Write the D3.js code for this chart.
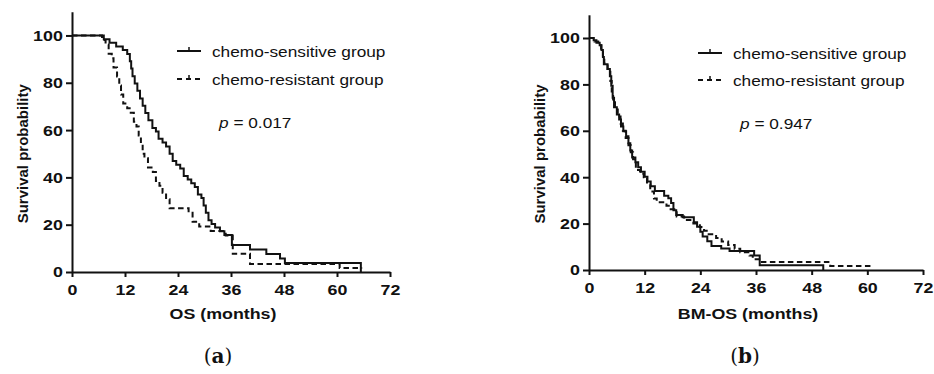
<!DOCTYPE html>
<html>
<head>
<meta charset="utf-8">
<script src="https://cdn.jsdelivr.net/npm/d3@7"></script>
<style>
  body { margin: 0; background: #fff; }
  svg { display: block; }
</style>
</head>
<body>
<div id="chart"></div>
<script>
const width = 934;
const height = 374;
const stretch = 1.15;   // the source figure is a bit wider than tall
const sansFont = "'Liberation Sans', Arial, sans-serif";

const xTicks = [0, 12, 24, 36, 48, 60, 72];
const yTicks = [0, 20, 40, 60, 80, 100];
const groupNames = ["chemo-sensitive group", "chemo-resistant group"];

// [months, survival %]
const osSensitive = [[0,100],[7.2,98.4],[8.5,96.9],[10,95.3],[11.5,93.8],[12.5,92.2],[13.1,89.1],[13.4,86],[13.7,82.8],[14.2,79.7],
  [14.8,76.6],[15.4,73.4],[16,70.3],[16.6,67.2],[17.3,64.1],[18.2,60.9],[19,59.4],[19.6,56.3],[20.5,54.7],[21.3,53.1],
  [22.1,50],[22.8,46.9],[23.6,45.3],[24.5,43.8],[25.3,40.6],[26.2,39.1],[27,37.5],[27.8,35.9],[28.5,32.8],[29.3,31.3],
  [29.8,28.1],[30.3,25],[30.9,21.9],[31.6,20.3],[32.4,18.8],[33.5,17.2],[34.5,15.6],[36.2,11.4],[40.3,9.5],[44,7.6],
  [47.1,5.7],[48.2,3.8],[65.4,0]];
const osResistant = [[0,100],[6.8,98.1],[7.6,96.2],[8.3,92.3],[9,90.4],[9.4,86.5],[10.2,82.7],[10.7,78.8],[11.1,75],[11.6,71.2],
  [12.5,69.2],[13.3,67.3],[14,63.5],[14.6,61.5],[15.1,57.7],[15.6,53.8],[16,50],[16.4,48.1],[17.2,44.2],[18.3,42.3],
  [19,38.5],[19.8,36.5],[20.5,33.5],[21.3,30.8],[22.1,26.9],[26.4,25],[27.3,21.2],[28.8,19.2],[31.4,17.3],[34.8,15.4],
  [36.4,7.7],[40.3,3.4],[60.6,1.7],[65.7,1.7]];
const bmSensitive = [[0,100],[1,99],[1.6,97.9],[2.3,96.9],[2.7,94.8],[3,91.8],[3.2,88.7],[4,86.6],[4.5,83.5],[4.8,79.4],
  [5.1,74.2],[5.4,70.1],[6,67],[6.5,64.9],[6.9,61.9],[7.4,59.8],[8,57.7],[8.5,54.6],[8.9,51.5],[9.3,48.5],
  [10,46.4],[10.6,44.3],[11.2,42.3],[12,40.2],[12.6,38.1],[13.3,36.1],[14.2,34],[16.2,32],[17.1,30.9],[17.7,28.9],
  [18.2,25.8],[18.8,23.7],[20.2,22.7],[22.6,20.6],[23.3,18.6],[24,16.5],[24.5,14.4],[25.5,12.4],[26.4,10.3],[28.5,9.3],
  [30.3,8.2],[35.6,6.2],[36.8,2.1],[50.5,0]];
const bmResistant = [[0,100],[1.2,98.5],[2,96.9],[2.6,95.4],[3,92.3],[3.3,89.2],[4,86.2],[4.6,81.5],[4.9,76.9],[5.2,72.3],
  [5.6,69.2],[6.2,66.2],[6.8,63.1],[7.3,60],[7.9,56.9],[8.5,53.8],[9,50.8],[9.5,47.7],[10.1,43.1],[11,41.5],
  [11.8,40],[12.5,36.9],[13.2,33.8],[14,30.8],[14.6,29.2],[16.7,27.7],[17.6,26.2],[18.9,23.1],[20.5,21.5],[22.5,20],
  [23.9,18.5],[24.8,16.9],[25.8,15.4],[27.4,13.8],[28.6,12.3],[30,10.8],[31.4,9.2],[32.6,7.7],[34.6,6.2],[35.3,4.6],
  [36.9,3.4],[52,1.7],[60.8,1.7]];

const panels = [
  { tag: "a", xTitle: "OS (months)", pValue: "0.017", series: [osSensitive, osResistant],
    left: 72, right: 390, bottom: 272, top: 11.8, yTitleX: 23, legX: 177, legY: [51, 79], pY: 128, capX: 218 },
  { tag: "b", xTitle: "BM-OS (months)", pValue: "0.947", series: [bmSensitive, bmResistant],
    left: 589, right: 923, bottom: 270, top: 14.8, yTitleX: 540, legX: 698, legY: [53, 80], pY: 128.5, capX: 745 }
];

const svg = d3.select("#chart").append("svg")
    .attr("width", width)
    .attr("height", height);

function stretchedText(g, x, y, str, size, weight, anchor) {
  return g.append("text")
      .attr("transform", `translate(${x},${y}) scale(${stretch},1)`)
      .attr("text-anchor", anchor || "start")
      .style("font-family", sansFont)
      .style("font-size", size + "px")
      .style("font-weight", weight || "normal")
      .style("fill", "#111")
      .text(str);
}

panels.forEach(p => {
  const g = svg.append("g");
  const x = d3.scaleLinear().domain([0, 72]).range([p.left, p.right]);
  const y = d3.scaleLinear().domain([0, 110]).range([p.bottom, p.top]);

  const xAxis = g.append("g")
      .attr("transform", `translate(0,${p.bottom})`)
      .call(d3.axisBottom(x).tickValues(xTicks).tickSize(5).tickSizeOuter(0).tickPadding(7));
  const yAxis = g.append("g")
      .attr("transform", `translate(${p.left},0)`)
      .call(d3.axisLeft(y).tickValues(yTicks).tickSize(6).tickSizeOuter(0).tickPadding(2));

  [xAxis, yAxis].forEach(ax => {
    ax.select(".domain").attr("stroke", "#111").attr("stroke-width", 2);
    ax.selectAll(".tick line").attr("stroke", "#111").attr("stroke-width", 2);
    ax.selectAll(".tick text")
        .attr("transform", `scale(${stretch},1)`)
        .style("font-family", sansFont)
        .style("font-size", "15.5px")
        .style("font-weight", "bold")
        .style("fill", "#111");
  });

  // survival curves
  const line = d3.line()
      .x(d => x(d[0]))
      .y(d => y(d[1]))
      .curve(d3.curveStepAfter);

  p.series.forEach((s, i) => {
    g.append("path")
        .datum(s)
        .attr("d", line)
        .attr("fill", "none")
        .attr("stroke", "#111")
        .attr("stroke-width", 2)
        .attr("stroke-dasharray", i === 1 ? "5.5,3.5" : null);
  });

  // axis titles
  stretchedText(g, (p.left + p.right) / 2 - 8, 319, p.xTitle, 15.5, "bold", "middle");
  g.append("text")
      .attr("transform", `translate(${p.yTitleX + 5},${(p.bottom + y(100)) / 2}) rotate(-90)`)
      .attr("text-anchor", "middle")
      .style("font-family", sansFont)
      .style("font-size", "15px")
      .style("font-weight", "bold")
      .style("fill", "#111")
      .text("Survival probability");

  // legend
  groupNames.forEach((name, i) => {
    const ly = p.legY[i];
    g.append("line")
        .attr("x1", p.legX).attr("x2", p.legX + 24)
        .attr("y1", ly).attr("y2", ly)
        .attr("stroke", "#111").attr("stroke-width", 2)
        .attr("stroke-dasharray", i === 1 ? "5,4" : null);
    g.append("line")
        .attr("x1", p.legX + 12).attr("x2", p.legX + 12)
        .attr("y1", ly).attr("y2", ly - 4)
        .attr("stroke", "#111").attr("stroke-width", 1.5);
    stretchedText(g, p.legX + 35, ly + 5.5, name, 15);
  });

  const pt = stretchedText(g, p.legX + 42, p.pY, "", 15);
  pt.append("tspan").style("font-style", "italic").text("p");
  pt.append("tspan").text(" = " + p.pValue);

  // panel caption
  const cap = g.append("text")
      .attr("x", p.capX)
      .attr("y", 363)
      .attr("text-anchor", "middle")
      .style("font-family", "'DejaVu Serif', serif")
      .style("font-size", "20px")
      .style("fill", "#111");
  cap.append("tspan").text("(");
  cap.append("tspan").style("font-weight", "bold").text(p.tag);
  cap.append("tspan").text(")");
});
</script>
</body>
</html>
